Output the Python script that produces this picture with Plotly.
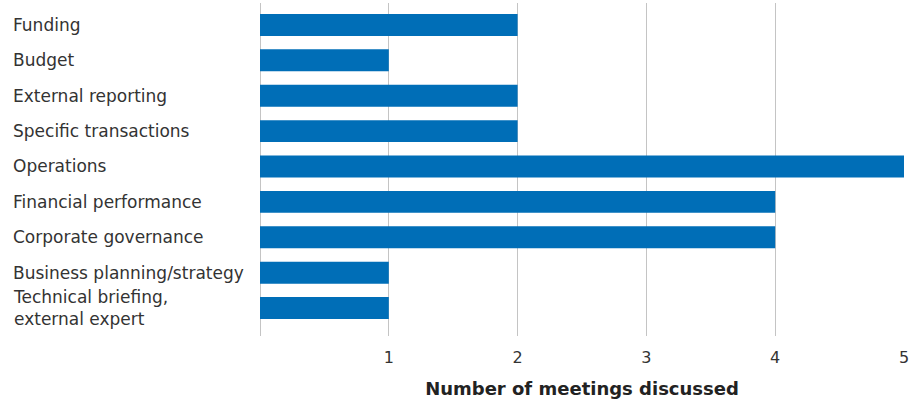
import plotly.graph_objects as go

categories = ["Funding", "Budget", "External reporting", "Specific transactions",
              "Operations", "Financial performance", "Corporate governance",
              "Business planning/strategy", "Technical briefing,<br>external expert"]
values = [2, 1, 2, 2, 5, 4, 4, 1, 1]
tick_vals = [1, 2, 3, 4, 5]
x_title = "Number of meetings discussed"

FONT = "DejaVu Sans"
TXT = "#333333"

fig = go.Figure(go.Bar(
    y=list(range(len(categories))), x=values, orientation="h",
    marker=dict(color="#006EB7", line=dict(width=0)),
    width=0.62, hoverinfo="skip",
))

L, R = 260, 17
W = 921
pw = W - L - R
annotations = []
for i, c in enumerate(categories):
    annotations.append(dict(
        text=c, x=-(L - 11) / pw, xref="paper", xanchor="left",
        y=i, yref="y", yanchor="middle", showarrow=False, align="left",
        font=dict(family=FONT, size=17, color=TXT),
    ))

fig.update_layout(
    width=921, height=405,
    margin=dict(l=L, r=R, t=3, b=69),
    paper_bgcolor="white", plot_bgcolor="white",
    showlegend=False,
    annotations=annotations,
    xaxis=dict(
        range=[0, 5], tickvals=tick_vals, showgrid=True, gridcolor="#c4c4c4",
        gridwidth=1, zeroline=True, zerolinecolor="#c4c4c4", zerolinewidth=1,
        showline=False, ticks="", ticklabelstandoff=10,
        tickfont=dict(family=FONT, size=16, color=TXT),
        title=dict(text="<b>" + x_title + "</b>", standoff=16,
                   font=dict(family=FONT, size=18, color="#222222")),
    ),
    yaxis=dict(range=[8.79, -0.62], showticklabels=False, showgrid=False,
               zeroline=False, showline=False, ticks=""),
)

fig.write_html("out.html")
